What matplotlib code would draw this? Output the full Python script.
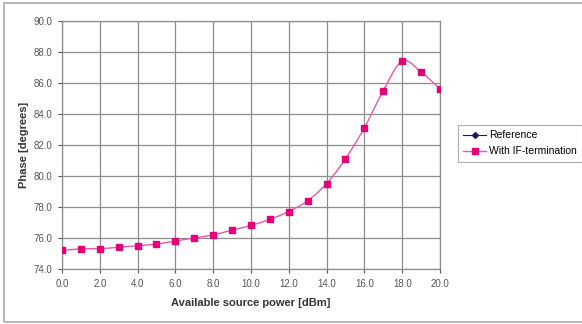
import numpy as np
import matplotlib
matplotlib.use("Agg")
import matplotlib.pyplot as plt
from matplotlib.lines import Line2D
from matplotlib.patches import Rectangle

# data
power_dbm = [0, 1, 2, 3, 4, 5, 6, 7, 8, 9, 10, 11, 12, 13, 14, 15, 16, 17, 18, 19, 20]
phase_if = [75.2, 75.3, 75.3, 75.4, 75.5, 75.6, 75.8, 76.0, 76.2, 76.5, 76.8,
            77.2, 77.7, 78.4, 79.5, 81.1, 83.1, 85.5, 87.4, 86.7, 85.6]
x_ticks = [0, 2, 4, 6, 8, 10, 12, 14, 16, 18, 20]
y_ticks = [74, 76, 78, 80, 82, 84, 86, 88, 90]


def smooth(x, y, n=20):
    # Catmull-Rom curve through the points, like Excel's smoothed line
    x = np.asarray(x, float)
    y = np.asarray(y, float)
    px = np.concatenate([[2 * x[0] - x[1]], x, [2 * x[-1] - x[-2]]])
    py = np.concatenate([[2 * y[0] - y[1]], y, [2 * y[-1] - y[-2]]])
    xs, ys = [], []
    t = np.linspace(0, 1, n, endpoint=False)
    for i in range(1, len(px) - 2):
        for p, out in ((px, xs), (py, ys)):
            p0, p1, p2, p3 = p[i - 1], p[i], p[i + 1], p[i + 2]
            out.extend(0.5 * (2 * p1 + (-p0 + p2) * t
                              + (2 * p0 - 5 * p1 + 4 * p2 - p3) * t ** 2
                              + (-p0 + 3 * p1 - 3 * p2 + p3) * t ** 3))
    xs.append(x[-1])
    ys.append(y[-1])
    return xs, ys


plt.rcParams['font.family'] = ['Liberation Sans', 'DejaVu Sans']

fig = plt.figure(figsize=(5.82, 3.24), dpi=100)
ax = fig.add_axes([0.1065, 0.170, 0.6495, 0.766])

pink = '#e2007a'
sx, sy = smooth(power_dbm, phase_if)
ax.plot(sx, sy, color='#e75aa5', lw=1.0, zorder=3)
ax.plot(power_dbm, phase_if, ls='none', marker='s', ms=4.5, color=pink, zorder=4)

ax.set_xlim(0, 20)
ax.set_ylim(74, 90)
ax.set_xticks(x_ticks)
ax.set_yticks(y_ticks)
ax.set_xticklabels([f"{v:.1f}" for v in x_ticks])
ax.set_yticklabels([f"{v:.1f}" for v in y_ticks])
ax.tick_params(labelsize=7, colors='#555555', length=3, width=0.8, pad=4)
ax.grid(True, color='#8c8c8c', lw=0.9)
ax.set_axisbelow(True)
for s in ax.spines.values():
    s.set_color('#8c8c8c')
    s.set_linewidth(0.9)

ax.set_xlabel("Available source power [dBm]", fontsize=8, fontweight='bold', color='#333333', labelpad=7)
ax.set_ylabel("Phase [degrees]", fontsize=8, fontweight='bold', color='#333333', labelpad=3)

handles = [
    Line2D([], [], color='#1a1a5e', marker='D', ms=3, lw=0.8),
    Line2D([], [], color='#e75aa5', marker='s', ms=4.5, mfc=pink, mec=pink, lw=1.0),
]
leg = fig.legend(handles, ["Reference", "With IF-termination"], loc='upper left',
                 bbox_to_anchor=(458 / 582, 1 - 125 / 324), fontsize=7.5,
                 frameon=True, fancybox=False, handlelength=2.2, borderpad=0.5,
                 labelspacing=0.6, handletextpad=0.25, borderaxespad=0)
leg.get_frame().set_edgecolor('#999999')
leg.get_frame().set_linewidth(0.8)

fig.patches.append(Rectangle((4 / 582, 2 / 324), 1, 1 - 5 / 324, transform=fig.transFigure,
                             fill=False, edgecolor='#aaaaaa', lw=1.2))

fig.savefig("out.png", dpi=100)
